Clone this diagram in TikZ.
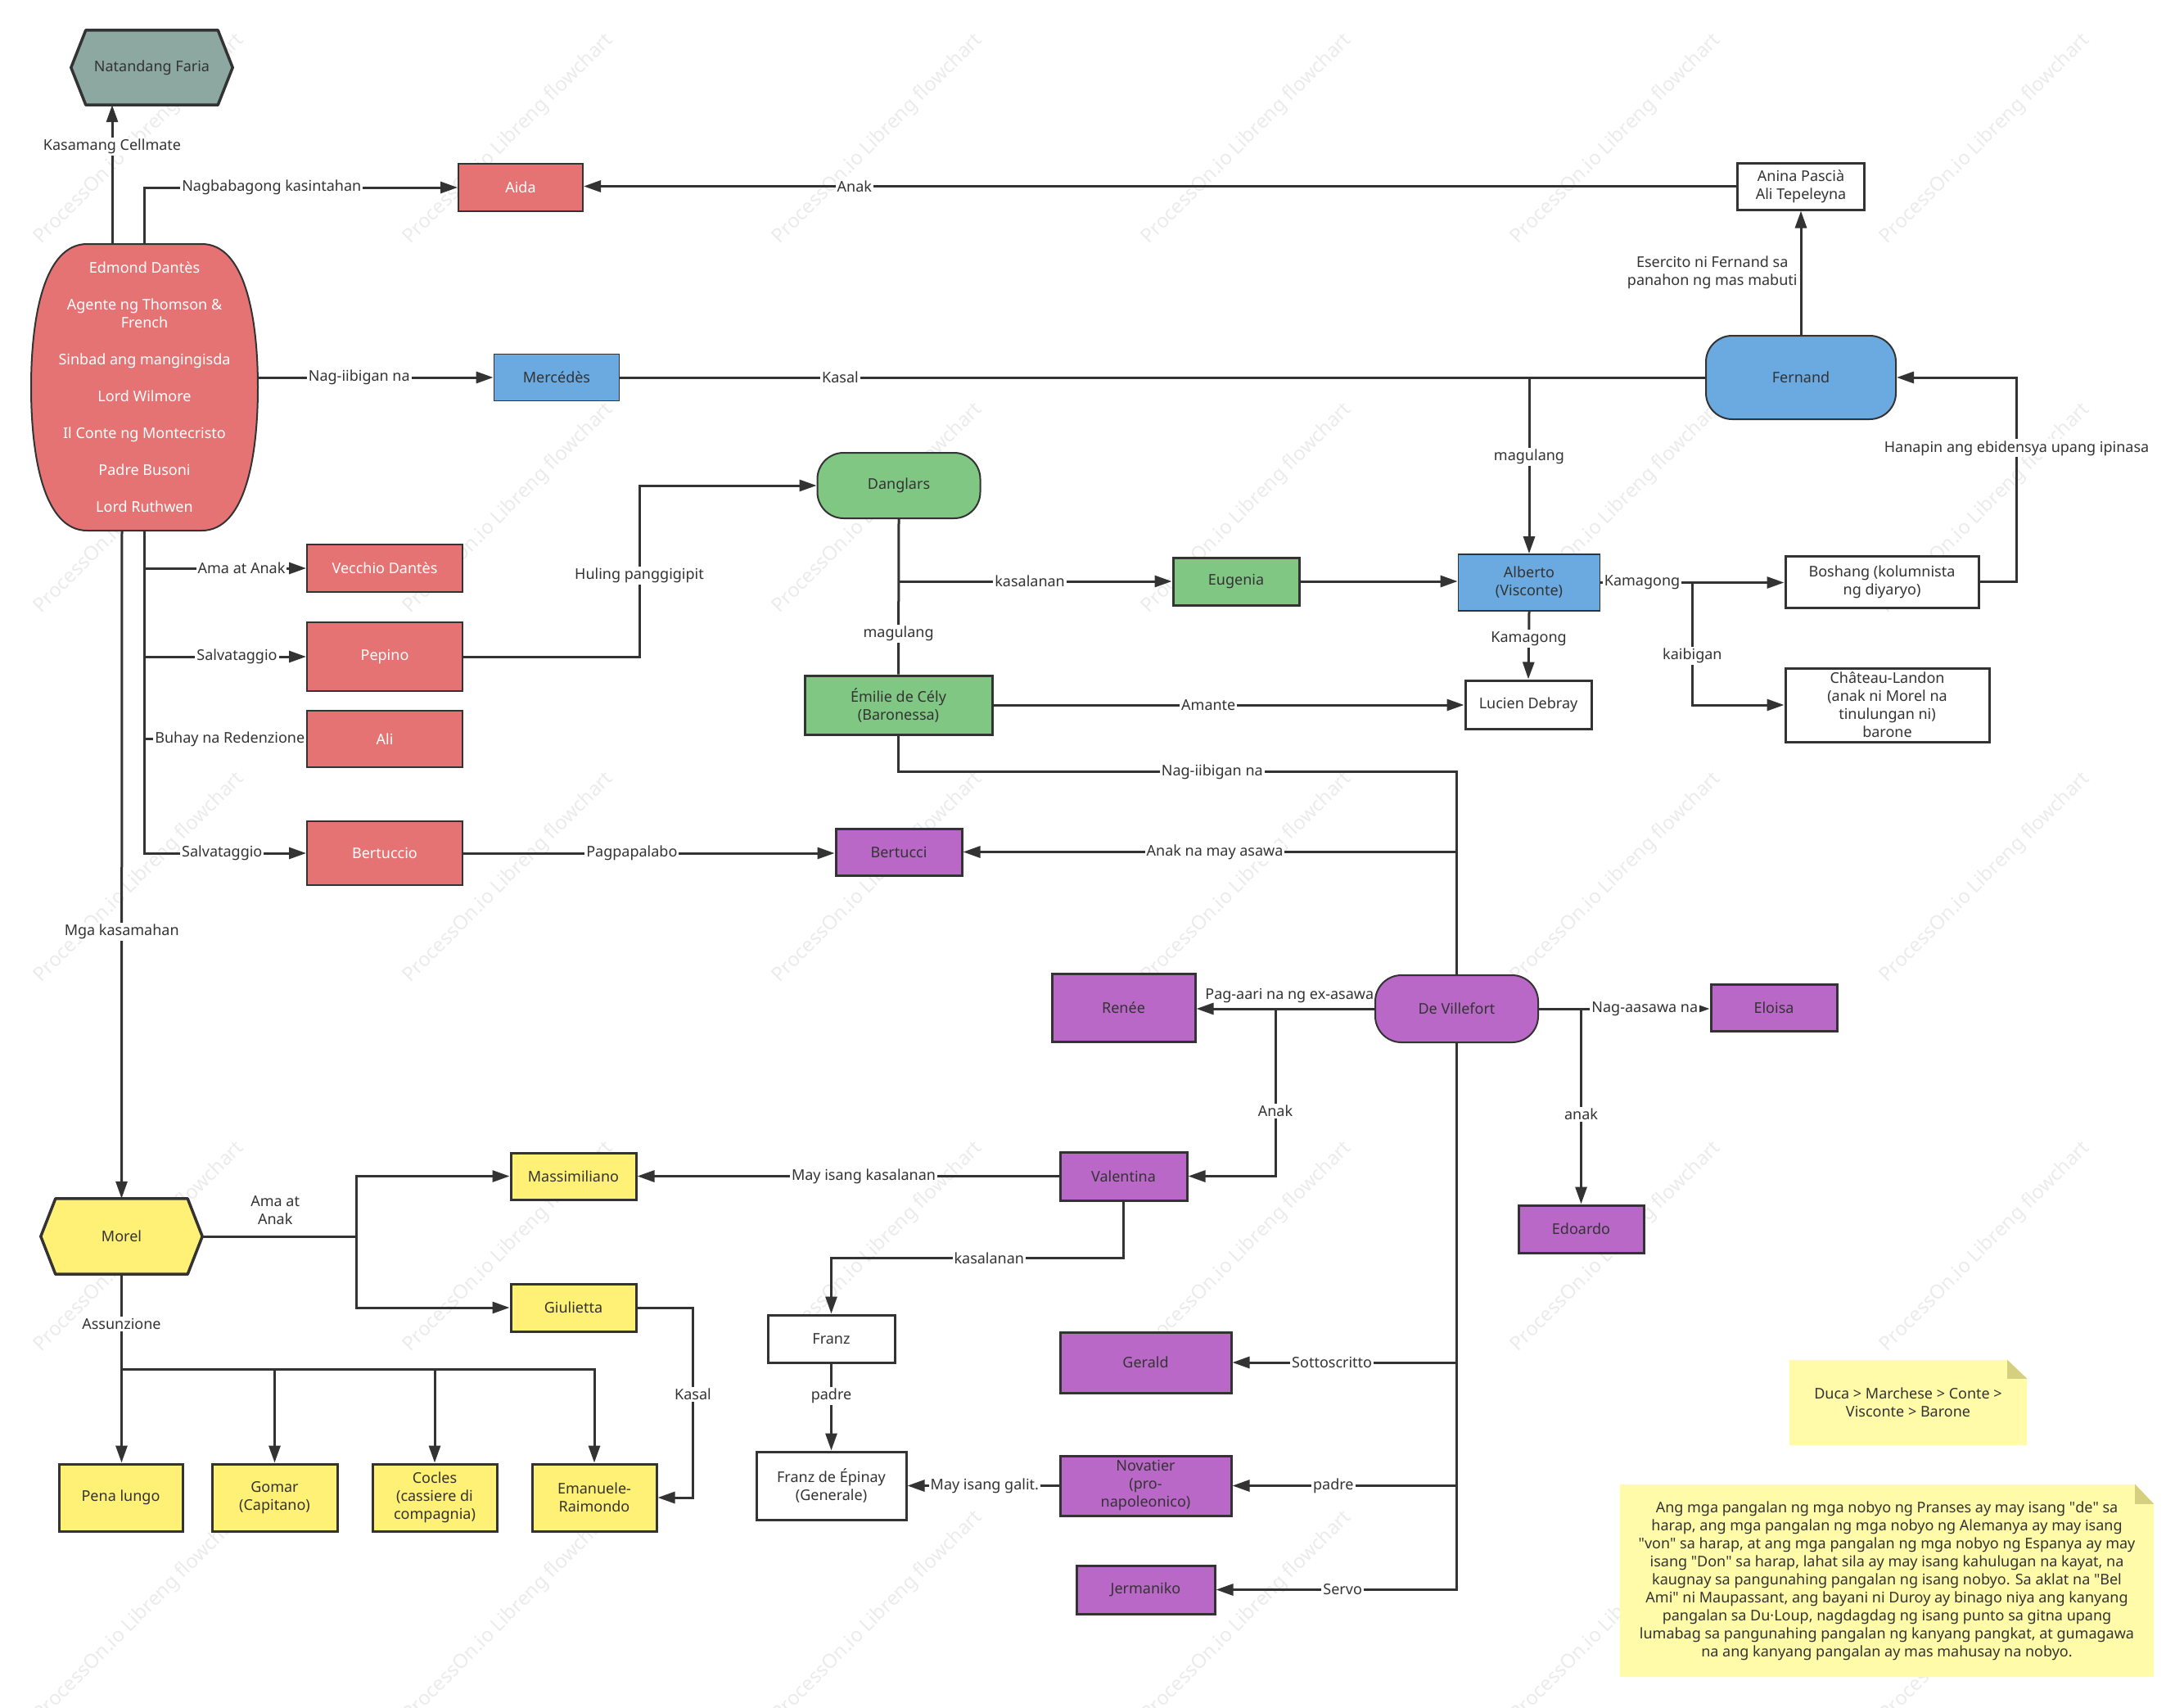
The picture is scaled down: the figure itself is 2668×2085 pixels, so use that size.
\documentclass[tikz,border=0pt]{standalone}
\usepackage{fontspec}
\setmainfont{Noto Sans}
\font\qfnt="Noto Sans" at 18pt
\newcommand\dq{{\qfnt\char"22}}
\usetikzlibrary{arrows.meta,calc}
\definecolor{lc}{HTML}{333333}
\definecolor{tc}{HTML}{333333}
\definecolor{cred}{HTML}{E57373}
\definecolor{cblue}{HTML}{6AAAE0}
\definecolor{cgreen}{HTML}{81C784}
\definecolor{cpurple}{HTML}{BA68C8}
\definecolor{cyellow}{HTML}{FFF176}
\definecolor{cgray}{HTML}{8DA8A0}
\definecolor{cnote}{HTML}{FFFBA9}
\definecolor{cfold}{HTML}{D4D07F}
\definecolor{cwm}{HTML}{EBEBEB}
\pgfdeclarelayer{wm}
\pgfdeclarelayer{bg}
\pgfsetlayers{wm,bg,main}
\begin{document}
\begin{tikzpicture}[x=1pt,y=-1pt,
  font=\fontsize{18}{22}\selectfont, text=tc,
  ln/.style={draw=lc, line width=3pt},
  arr/.style={ln, -{Triangle[length=21pt,width=14pt]}},
  lbl/.style={fill=white, inner sep=2pt, text=tc},
  sz/.style 2 args={minimum width=#1, minimum height=#2},
  bx/.style={draw=lc, line width=3pt, align=center, inner sep=1pt},
  redbx/.style={bx, fill=cred, text=white, line width=2pt},
  bluebx/.style={bx, fill=cblue, line width=1.8pt},
  greenbx/.style={bx, fill=cgreen},
  purplebx/.style={bx, fill=cpurple},
  yellowbx/.style={bx, fill=cyellow},
  whitebx/.style={bx, fill=white},
  roundbx/.style={bx, line width=2pt, rounded corners=32},
  wmark/.style={rotate=45, text=cwm, font=\fontsize{24}{24}\selectfont}
]
\useasboundingbox (0,0) rectangle (2668,2085);

% watermarks
\begin{pgfonlayer}{wm}
\foreach \wx in {170,621,1072,1523,1974,2425}{
  \foreach \wy in {170,621,1072,1523,1974}{
    \node[wmark] (wm-\wx-\wy) at (\wx,\wy) {ProcessOn.io Libreng flowchart};
  }
}
\end{pgfonlayer}

% ---------- nodes ----------
\node[align=center, sz={197}{91}] (nat) at (185.5,82.5) {Natandang Faria};
\node[align=center, text=white, sz={277}{350}] (edm) at (176.5,473)
  {Edmond Dantès\\[23pt]Agente ng Thomson \&\\French\\[23pt]Sinbad ang mangingisda\\[23pt]Lord Wilmore\\[23pt]Il Conte ng Montecristo\\[23pt]Padre Busoni\\[23pt]Lord Ruthwen};
\node[redbx, sz={152}{58}] (aida) at (636,229) {Aida};
\node[whitebx, sz={155}{57}] (anina) at (2200,227.5) {Anina Pascià\\Ali Tepeleyna};
\node[bluebx, sz={153}{57}] (merc) at (680,461) {Mercédès};
\node[roundbx, fill=cblue, sz={232}{102}] (fern) at (2200,461) {Fernand};
\node[roundbx, fill=cgreen, sz={199}{80}] (danglars) at (1098,593) {Danglars};
\node[greenbx, sz={154}{58}] (eugenia) at (1510,710) {Eugenia};
\node[bluebx, sz={173}{69}] (alberto) at (1868,711.5) {Alberto\\(Visconte)};
\node[whitebx, sz={154}{59}] (lucien) at (1867,860.5) {Lucien Debray};
\node[greenbx, sz={229}{72}] (emilie) at (1097.5,861) {Émilie de Cély\\(Baronessa)};
\node[whitebx, sz={236}{63}] (boshang) at (2299,710.5) {Boshang (kolumnista\\ng diyaryo)};
\node[whitebx, sz={249}{90}] (chateau) at (2305.5,861) {Château-Landon\\(anak ni Morel na\\tinulungan ni)\\barone};
\node[redbx, sz={190}{58}] (vecchio) at (470,694) {Vecchio Dantès};
\node[redbx, sz={190}{84}] (pepino) at (470,802) {Pepino};
\node[redbx, sz={190}{69}] (ali) at (470,902.5) {Ali};
\node[redbx, sz={190}{78}] (bertuccio) at (470,1042) {Bertuccio};
\node[purplebx, sz={154}{57}] (bertucci) at (1098,1040.5) {Bertucci};
\node[roundbx, fill=cpurple, sz={199}{82}] (devil) at (1779.5,1232) {De Villefort};
\node[purplebx, sz={175}{83}] (renee) at (1372.5,1230.5) {Renée};
\node[purplebx, sz={154}{57}] (eloisa) at (2167,1230.5) {Eloisa};
\node[purplebx, sz={153}{58}] (edoardo) at (1931.5,1501) {Edoardo};
\node[purplebx, sz={155}{59}] (valentina) at (1372.5,1436.5) {Valentina};
\node[yellowbx, sz={153}{57}] (massimiliano) at (700.5,1436.5) {Massimiliano};
\node[yellowbx, sz={153}{58}] (giulietta) at (700.5,1597) {Giulietta};
\node[align=center, sz={197}{92}] (morel) at (148.5,1510) {Morel};
\node[yellowbx, sz={151}{82}] (pena) at (147.5,1829) {Pena lungo};
\node[yellowbx, sz={153}{82}] (gomar) at (335.5,1829) {Gomar\\(Capitano)};
\node[yellowbx, sz={152}{82}] (cocles) at (531,1829) {Cocles\\(cassiere di\\compagnia)};
\node[yellowbx, sz={152}{82}] (emanuele) at (726,1829) {Emanuele-\\Raimondo};
\node[whitebx, sz={155}{58}] (franz) at (1015.5,1635) {Franz};
\node[whitebx, sz={183}{83}] (franzde) at (1015.5,1814.5) {Franz de Épinay\\(Generale)};
\node[purplebx, sz={209}{74}] (gerald) at (1399.5,1664) {Gerald};
\node[purplebx, sz={209}{73}] (novatier) at (1399.5,1814.5) {Novatier\\(pro-\\napoleonico)};
\node[purplebx, sz={169}{59}] (jermaniko) at (1399.5,1941.5) {Jermaniko};
\node[align=center, sz={290}{104}] (note1) at (2331,1713) {Duca > Marchese > Conte >\\Visconte > Barone};
\node[align=center, sz={652}{235}, inner sep=0pt] (note2) at (2305,1930.5)
  {Ang mga pangalan ng mga nobyo ng Pranses ay may isang \dq de\dq{} sa\\
   harap, ang mga pangalan ng mga nobyo ng Alemanya ay may isang\\
   \dq von\dq{} sa harap, at ang mga pangalan ng mga nobyo ng Espanya ay may\\
   isang \dq Don\dq{} sa harap, lahat sila ay may isang kahulugan na kayat, na\\
   kaugnay sa pangunahing pangalan ng isang nobyo. Sa aklat na \dq Bel\\
   Ami\dq{} ni Maupassant, ang bayani ni Duroy ay binago niya ang kanyang\\
   pangalan sa Du·Loup, nagdagdag ng isang punto sa gitna upang\\
   lumabag sa pangunahing pangalan ng kanyang pangkat, at gumagawa\\
   na ang kanyang pangalan ay mas mahusay na nobyo.};

% ---------- custom shapes behind text ----------
\begin{pgfonlayer}{bg}
\filldraw[fill=cgray, draw=lc, line width=3.5pt, line join=round]
  (nat.west) -- ($(nat.north west)+(18,0)$) -- ($(nat.north east)+(-18,0)$) -- (nat.east)
  -- ($(nat.south east)+(-18,0)$) -- ($(nat.south west)+(18,0)$) -- cycle;
\filldraw[fill=cyellow, draw=lc, line width=3.5pt, line join=round]
  (morel.west) -- ($(morel.north west)+(18,0)$) -- ($(morel.north east)+(-18,0)$) -- (morel.east)
  -- ($(morel.south east)+(-18,0)$) -- ($(morel.south west)+(18,0)$) -- cycle;
\filldraw[fill=cred, draw=lc, line width=2pt, shift={(edm.center)}]
  (-70,-175) -- (70,-175) .. controls (123,-175) and (138.5,-85) .. (138.5,0)
  .. controls (138.5,85) and (123,175) .. (70,175) -- (-70,175)
  .. controls (-123,175) and (-138.5,85) .. (-138.5,0)
  .. controls (-138.5,-85) and (-123,-175) .. (-70,-175) -- cycle;
\fill[cnote] (note1.north west) -- ($(note1.north east)+(-24,0)$) -- ($(note1.north east)+(0,23)$)
  -- (note1.south east) -- (note1.south west) -- cycle;
\fill[cfold] ($(note1.north east)+(-24,0)$) -- ($(note1.north east)+(-24,23)$) -- ($(note1.north east)+(0,23)$) -- cycle;
\fill[cnote] (note2.north west) -- ($(note2.north east)+(-23,0)$) -- ($(note2.north east)+(0,24)$)
  -- (note2.south east) -- (note2.south west) -- cycle;
\fill[cfold] ($(note2.north east)+(-23,0)$) -- ($(note2.north east)+(-23,24)$) -- ($(note2.north east)+(0,24)$) -- cycle;
\end{pgfonlayer}

% ---------- connectors ----------
% Edmond
\draw[arr] ($(edm.north)+(-39.5,0)$) -- node[lbl,pos=0.7]{Kasamang Cellmate} ($(nat.south)+(-48.5,0)$);
\draw[arr] (edm.north) |- node[lbl,pos=0.703]{Nagbabagong kasintahan} (aida.west);
\draw[arr] (anina.west) -- node[lbl,pos=0.765]{Anak} (anina.west -| aida.east);
\draw[arr] (edm.east |- merc.west) -- node[lbl,pos=0.43]{Nag-iibigan na} (merc.west);
\draw[arr] (edm.south) |- node[lbl,pos=0.8]{Ama at Anak} (vecchio.west);
\draw[arr] (edm.south) |- node[lbl,pos=0.786]{Salvataggio} (pepino.west);
\draw[ln] (edm.south) |- node[lbl,pos=0.764]{Buhay na Redenzione} (ali.west);
\draw[arr] (edm.south) |- node[lbl,pos=0.74]{Salvataggio} (bertuccio.west);
\draw[arr] ($(edm.south)+(-27.5,0)$) -- node[lbl,pos=0.6]{Mga kasamahan} (morel.north);

% Fernand
\draw[arr] (fern.west) -| node[lbl,pos=0.725]{magulang} (alberto.north);
\draw[ln] (merc.east) -- node[lbl,pos=0.203]{Kasal} (fern.west);
\draw[arr] (fern.north) -- node[pos=0.5, anchor=east, align=center, inner sep=3pt]{Esercito ni Fernand sa\\panahon ng mas mabuti} (anina.south);
\draw[arr] (boshang.east) -- ++(45,0) |- node[lbl,pos=0.327]{Hanapin ang ebidensya upang ipinasa} (fern.east);
\draw[arr] ($(alberto.east)+(112,0)$) |- node[lbl,pos=0.3]{kaibigan} (chateau.west);
\draw[arr] (alberto.east) -- node[lbl,pos=0.226]{Kamagong} (alberto.east -| boshang.west);
\draw[arr] (alberto.south) -- node[lbl,pos=0.4]{Kamagong} (lucien.north);

% Danglars
\draw[arr] (pepino.east) -- ++(215,0) |- node[lbl,pos=0.237]{Huling panggigipit} (danglars.west);
\draw[arr] (danglars.south |- eugenia.west) -- node[lbl,pos=0.48]{kasalanan} (eugenia.west);
\draw[ln] (danglars.south) -- node[lbl,pos=0.74]{magulang} (emilie.north);
\draw[arr] (eugenia.east) -- (eugenia.east -| alberto.west);
\draw[arr] (emilie.east) -- node[lbl,pos=0.457]{Amante} (emilie.east -| lucien.west);

% De Villefort
\draw[arr] (devil.north) |- node[lbl,pos=0.745]{Anak na may asawa} (bertucci.east);
\draw[ln] (emilie.south) -- ++(0,44) -| node[lbl,pos=0.281]{Nag-iibigan na} (devil.north);
\draw[arr] (bertuccio.east) -- node[lbl,pos=0.454]{Pagpapalabo} (bertuccio.east -| bertucci.west);
\draw[arr] (devil.west) -- node[above, pos=0.477, inner sep=2pt, yshift=4pt]{Pag-aari na ng ex-asawa} (devil.west -| renee.east);
\draw[arr] ($(devil.west)+(-121,0)$) |- node[lbl,pos=0.306]{Anak} (valentina.east);
\draw[arr] (devil.east) -- node[lbl,pos=0.62]{Nag-aasawa na} (devil.east -| eloisa.west);
\draw[arr] (devil.east -| edoardo.north) -- node[lbl,pos=0.54]{anak} (edoardo.north);
\draw[arr] (devil.south) |- node[lbl,pos=0.778]{Sottoscritto} (gerald.east);
\draw[arr] (devil.south) |- node[lbl,pos=0.775]{padre} (novatier.east);
\draw[arr] (devil.south) |- node[lbl,pos=0.737]{Servo} (jermaniko.east);

% Valentina / Franz
\draw[arr] (valentina.west) -- node[lbl,pos=0.463]{May isang kasalanan} (massimiliano.east);
\draw[arr] (valentina.south) -- ++(0,69) -| node[lbl,pos=0.23]{kasalanan} (franz.north);
\draw[arr] (franz.south) -- node[lbl,pos=0.37]{padre} (franzde.north);
\draw[arr] (novatier.west) -- node[lbl,pos=0.49]{May isang galit.} (novatier.west -| franzde.east);

% Morel
\draw[arr] (morel.east) -- ++(188,0) |- (giulietta.west);
\draw[arr] (morel.east) -- node[above, align=center, inner sep=3pt, yshift=10pt, xshift=-5pt]{Ama at\\Anak} ++(188,0) |- (massimiliano.west);
\draw[arr] (giulietta.east) -- ++(68,0) |- node[lbl,pos=0.228]{Kasal} (emanuele.east);
\draw[arr] (morel.south) -- ++(0,116) -| (gomar.north);
\draw[arr] (morel.south) -- ++(0,116) -| (cocles.north);
\draw[arr] (morel.south) -- ++(0,116) -| (emanuele.north);
\draw[arr] (morel.south) -- node[lbl,pos=0.263]{Assunzione} (morel.south |- pena.north);
\end{tikzpicture}
\end{document}
